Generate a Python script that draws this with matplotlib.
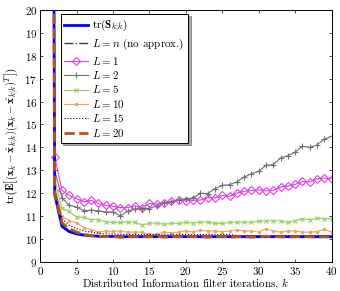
import matplotlib
matplotlib.use('Agg')
import matplotlib.pyplot as plt

plt.rcParams['font.family'] = 'cmr10'
plt.rcParams['mathtext.fontset'] = 'cm'
plt.rcParams['axes.formatter.use_mathtext'] = True

# iterations
k = list(range(1, 41))

# series values (k=1 is far above the axis)
tr_s = [100, 11.95, 10.55, 10.32, 10.22, 10.17, 10.14, 10.12, 10.11, 10.11,
        10.10, 10.10, 10.10, 10.10, 10.10, 10.10, 10.10, 10.10, 10.10, 10.10,
        10.10, 10.10, 10.10, 10.10, 10.10, 10.10, 10.10, 10.10, 10.10, 10.10,
        10.10, 10.10, 10.10, 10.10, 10.10, 10.10, 10.10, 10.10, 10.10, 10.10]
l_n = [100, 12.05, 10.62, 10.38, 10.25, 10.18, 10.13, 10.10, 10.12, 10.11,
       10.09, 10.12, 10.10, 10.11, 10.12, 10.10, 10.11, 10.08, 10.12, 10.10,
       10.11, 10.12, 10.09, 10.11, 10.10, 10.12, 10.10, 10.11, 10.09, 10.12,
       10.10, 10.11, 10.12, 10.10, 10.09, 10.12, 10.11, 10.10, 10.12, 10.08]
l1 = [100, 13.6, 12.12, 11.9, 11.76, 11.62, 11.69, 11.55, 11.47, 11.43,
      11.37, 11.37, 11.45, 11.37, 11.55, 11.52, 11.59, 11.65, 11.69, 11.66,
      11.69, 11.7, 11.8, 11.79, 11.9, 11.86, 12.0, 12.08, 12.12, 12.15,
      12.1, 12.12, 12.27, 12.31, 12.38, 12.51, 12.49, 12.63, 12.66, 12.63]
l2 = [100, 13.0, 11.8, 11.47, 11.4, 11.23, 11.26, 11.23, 11.18, 11.18,
      11.01, 11.21, 11.3, 11.33, 11.33, 11.45, 11.55, 11.62, 11.72, 11.76,
      11.79, 12.0, 11.98, 12.2, 12.34, 12.37, 12.49, 12.7, 12.85, 12.95,
      13.21, 13.25, 13.53, 13.64, 13.79, 14.05, 14.0, 14.1, 14.36, 14.48]
l5 = [100, 12.6, 11.35, 11.2, 10.95, 10.95, 10.85, 10.85, 10.75, 10.72,
      10.72, 10.75, 10.72, 10.62, 10.68, 10.7, 10.64, 10.68, 10.68, 10.72,
      10.7, 10.74, 10.74, 10.68, 10.68, 10.72, 10.73, 10.74, 10.72, 10.78,
      10.78, 10.8, 10.78, 10.72, 10.8, 10.88, 10.85, 10.9, 10.88, 10.88]
l10 = [100, 12.3, 11.0, 10.8, 10.7, 10.5, 10.4, 10.3, 10.35, 10.33,
       10.35, 10.3, 10.3, 10.3, 10.2, 10.2, 10.3, 10.28, 10.3, 10.35,
       10.3, 10.38, 10.35, 10.35, 10.32, 10.35, 10.4, 10.35, 10.35, 10.3,
       10.45, 10.35, 10.3, 10.35, 10.35, 10.3, 10.3, 10.32, 10.42, 10.3]
l15 = [100, 12.2, 10.9, 10.6, 10.45, 10.35, 10.3, 10.25, 10.22, 10.22,
       10.2, 10.2, 10.2, 10.18, 10.2, 10.2, 10.18, 10.2, 10.2, 10.2,
       10.18, 10.2, 10.2, 10.18, 10.2, 10.2, 10.15, 10.14, 10.15, 10.15,
       10.14, 10.15, 10.14, 10.15, 10.14, 10.15, 10.14, 10.15, 10.14, 10.15]
l20 = [100, 12.0, 10.7, 10.45, 10.3, 10.2, 10.15, 10.12, 10.1, 10.12,
       10.07, 10.1, 10.12, 10.1, 10.1, 10.12, 10.08, 10.1, 10.1, 10.12,
       10.1, 10.1, 10.08, 10.1, 10.12, 10.08, 10.1, 10.1, 10.08, 10.1,
       10.12, 10.1, 10.1, 10.08, 10.1, 10.12, 10.1, 10.08, 10.1, 10.08]

fig = plt.figure(figsize=(3.4, 2.91), dpi=100)
ax = fig.add_axes([0.118, 0.100, 0.857, 0.866])

ax.plot(k, tr_s, color='#0000ff', lw=2.0, label=r'$\mathrm{tr}(\mathbf{S}_{k|k})$', zorder=9)
ax.plot(k, l_n, color='#404040', lw=1.0, ls='-.', label=r'$L=n$ (no approx.)')
ax.plot(k, l1, color='#e040e0', lw=0.8, marker='D', ms=4, mfc='none', mew=0.8,
        label=r'$L=1$')
ax.plot(k, l2, color='#707070', lw=0.8, marker='+', ms=5, mew=0.8, label=r'$L=2$')
ax.plot(k, l5, color='#99cc66', lw=0.8, marker='x', ms=2.5, mew=0.8, label=r'$L=5$')
ax.plot(k, l10, color='#f0a060', lw=0.8, marker='.', ms=3, label=r'$L=10$')
ax.plot(k, l15, color='black', lw=0.8, ls=':', label=r'$L=15$')
ax.plot(k, l20, color='#b5531f', lw=2.0, ls='--', label=r'$L=20$', zorder=10)

ax.set_xlim(0, 40)
ax.set_ylim(9, 20)
ax.set_xticks(range(0, 41, 5))
ax.set_yticks(range(9, 21))
ax.tick_params(direction='in', top=True, right=True, labelsize=8, length=2.5, width=0.5, pad=2)
for s in ax.spines.values():
    s.set_linewidth(0.7)

ax.set_xlabel(r'Distributed Information filter iterations, $k$', fontsize=8, labelpad=0)
ax.set_ylabel(r'$\mathrm{tr}\left(\mathbf{E}\left[\left(\mathbf{x}_k-\hat{\mathbf{x}}_{k|k}\right)'
              r'\left(\mathbf{x}_k-\hat{\mathbf{x}}_{k|k}\right)^T\right]\right)$',
              fontsize=8, labelpad=2)

leg = ax.legend(loc='upper left', bbox_to_anchor=(0.07, 0.985), fontsize=8,
                fancybox=False, edgecolor='black', framealpha=1, shadow=True,
                handlelength=2.1, labelspacing=0.22, borderpad=0.35, handletextpad=0.4,
                borderaxespad=0)
leg.get_frame().set_linewidth(0.7)

fig.savefig('out.png', dpi=100)
